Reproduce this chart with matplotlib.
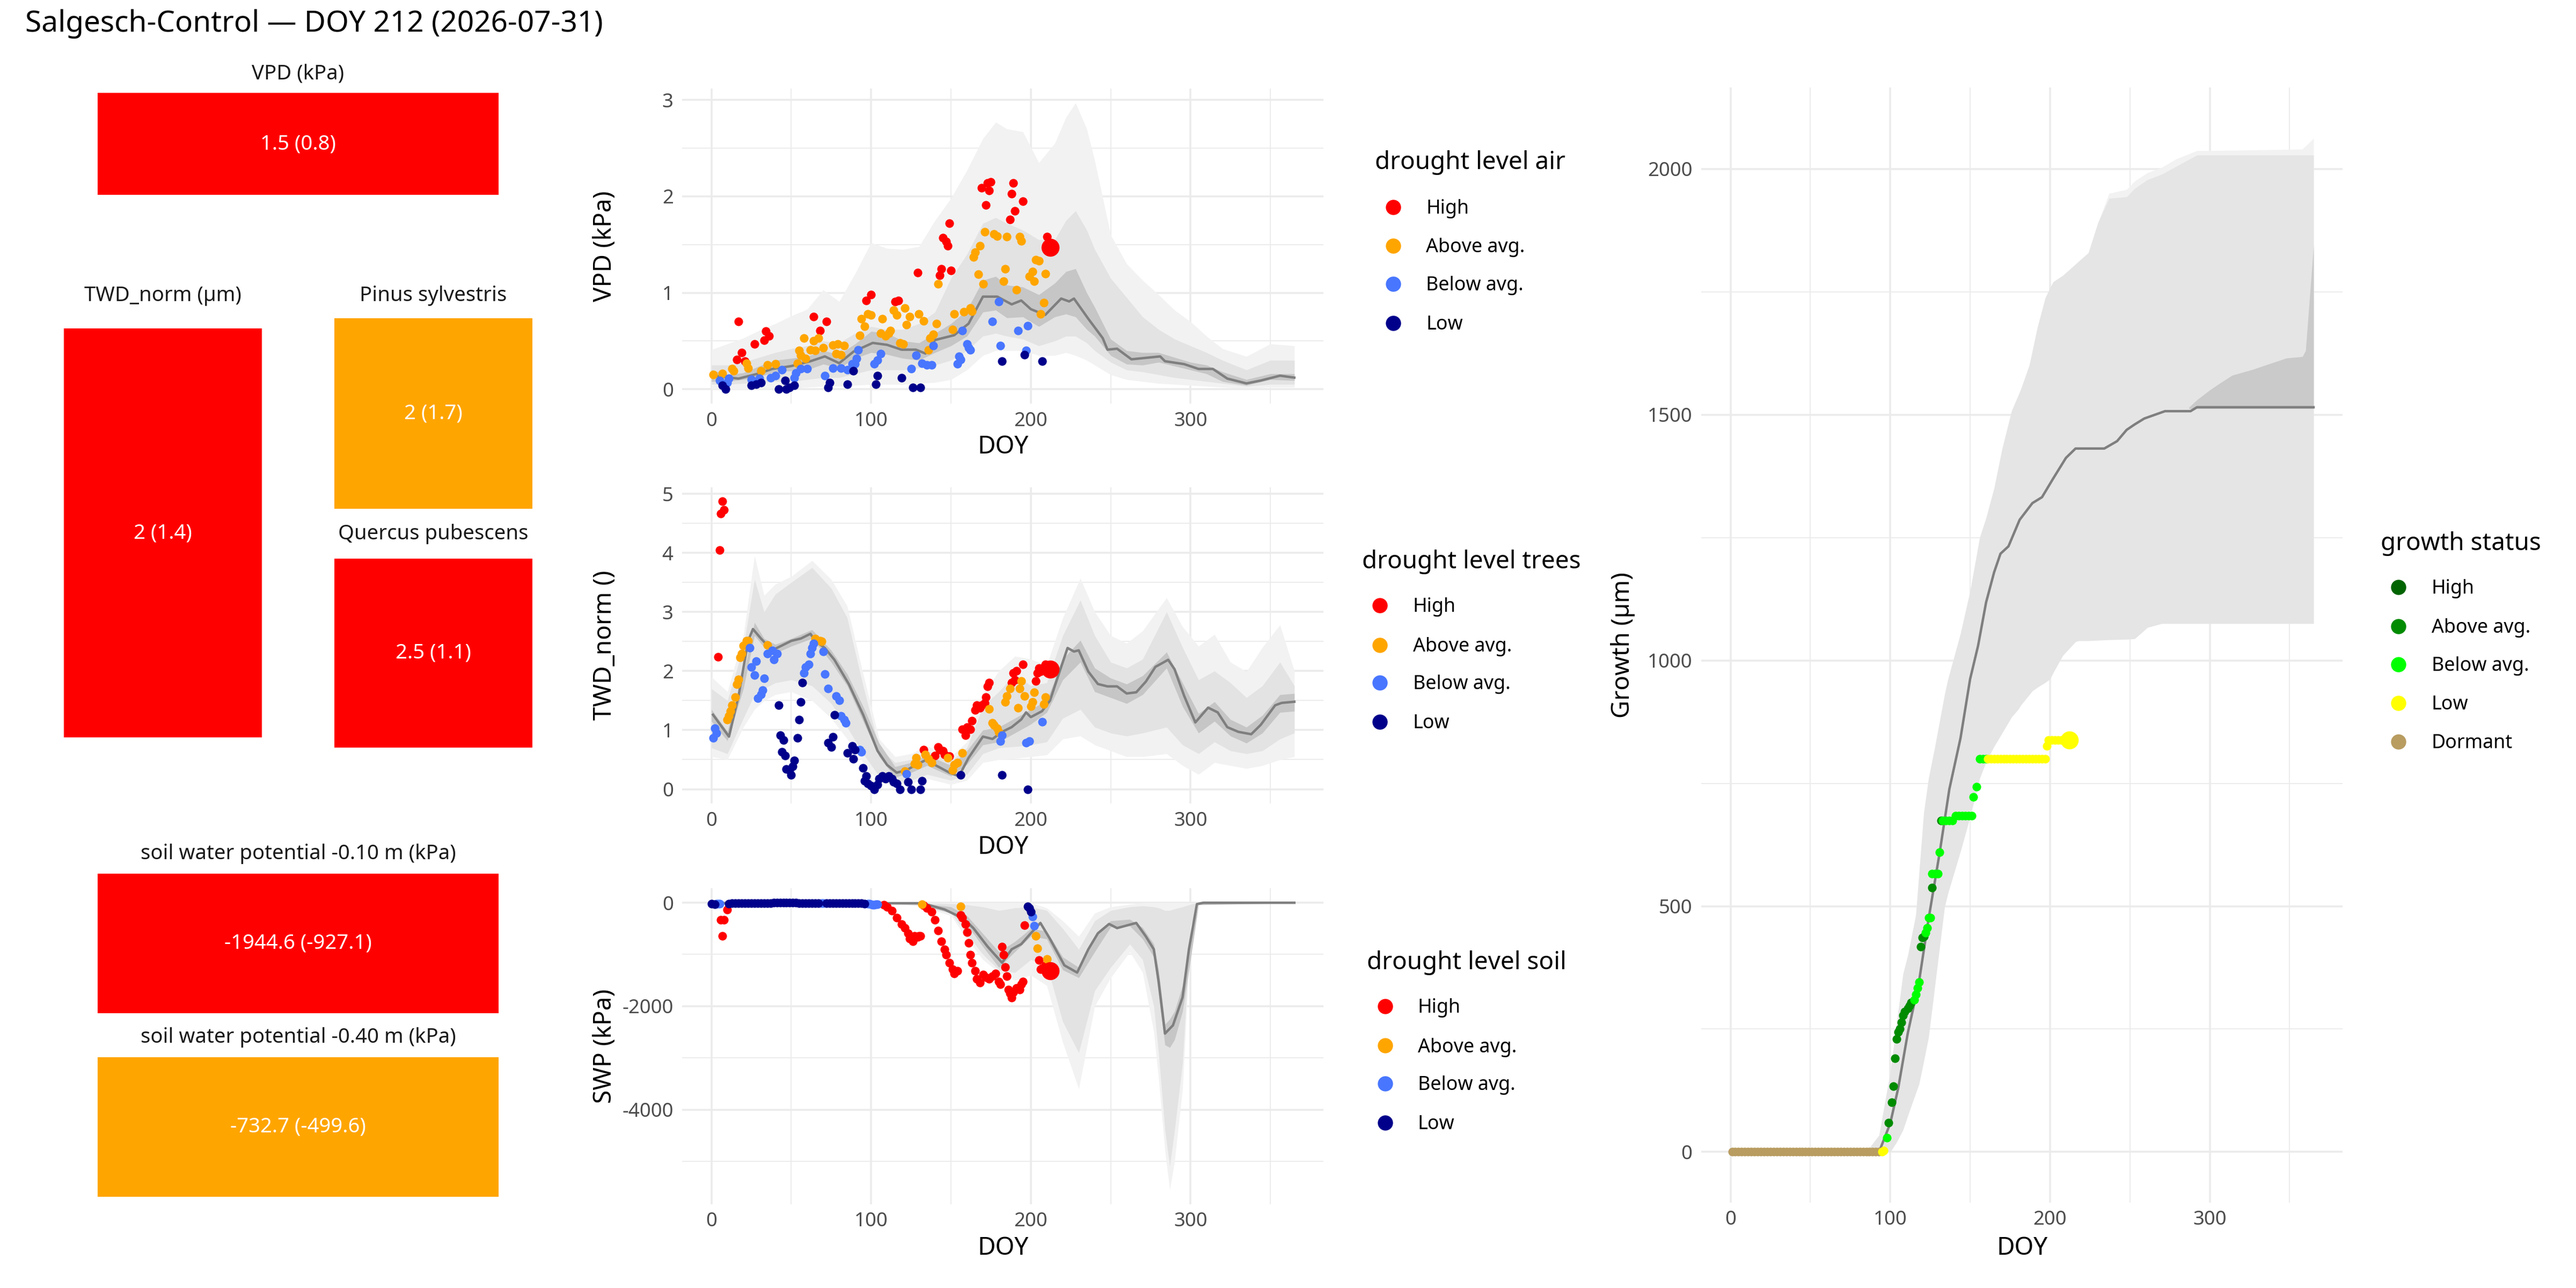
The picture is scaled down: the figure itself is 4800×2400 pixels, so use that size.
import matplotlib
matplotlib.use("Agg")
import matplotlib.pyplot as plt
from matplotlib.lines import Line2D

plt.rcParams['font.family'] = ['Noto Sans', 'DejaVu Sans']
plt.rcParams['axes.unicode_minus'] = False

TODAY = 212
TITLE = "Salgesch-Control \u2014 DOY 212 (2026-07-31)"

# ---------------- status tiles ----------------
tile_names = ["VPD (kPa)", "TWD_norm (\u00b5m)", "Pinus sylvestris", "Quercus pubescens",
              "soil water potential -0.10 m (kPa)", "soil water potential -0.40 m (kPa)"]
tile_labels = ["1.5 (0.8)", "2 (1.4)", "2 (1.7)", "2.5 (1.1)", "-1944.6 (-927.1)", "-732.7 (-499.6)"]
tile_levels = ["High", "High", "Above avg.", "High", "High", "Above avg."]

levels = ["High", "Above avg.", "Below avg.", "Low"]
level_colors = ["#FF0000", "#FFA500", "#4876FF", "#00008B"]
growth_levels = ["High", "Above avg.", "Below avg.", "Low", "Dormant"]
growth_colors = ["#006400", "#008B00", "#00FF00", "#FFFF00", "#B89C60"]

# ---------------- VPD ----------------
vpd_band_doy = [0, 10, 20, 30, 40, 50, 60, 70, 80, 90, 100, 110, 120, 130, 140, 150, 160, 170, 178, 185,
                195, 205, 215, 222, 228, 235, 240, 250, 260, 270, 280, 290, 300, 310, 320, 335, 350, 365]
vpd_out_lo = [0.0, 0.0, 0.0, 0.01, 0.01, 0.01, 0.02, 0.03, 0.03, 0.04, 0.05, 0.05, 0.05, 0.06, 0.07, 0.1, 0.2, 0.35, 0.4, 0.4,
              0.4, 0.35, 0.35, 0.38, 0.35, 0.3, 0.25, 0.15, 0.1, 0.08, 0.06, 0.05, 0.04, 0.03, 0.02, 0.01, 0.02, 0.02]
vpd_out_hi = [0.41, 0.47, 0.53, 0.61, 0.68, 0.76, 0.83, 1.03, 0.91, 1.2, 1.52, 1.46, 1.45, 1.48, 1.75, 1.98, 2.27, 2.6, 2.77, 2.7,
              2.67, 2.35, 2.55, 2.82, 2.97, 2.7, 2.37, 1.6, 1.3, 1.13, 0.98, 0.82, 0.7, 0.55, 0.42, 0.34, 0.47, 0.45]
vpd_mid_lo = [0.05, 0.05, 0.06, 0.07, 0.08, 0.08, 0.1, 0.12, 0.12, 0.16, 0.2, 0.2, 0.2, 0.22, 0.25, 0.3, 0.4, 0.55, 0.58, 0.55,
              0.52, 0.45, 0.5, 0.55, 0.55, 0.48, 0.4, 0.28, 0.2, 0.18, 0.15, 0.12, 0.1, 0.08, 0.06, 0.03, 0.05, 0.05]
vpd_mid_hi = [0.25, 0.25, 0.28, 0.33, 0.38, 0.42, 0.45, 0.5, 0.48, 0.58, 0.65, 0.62, 0.62, 0.68, 0.8, 1.15, 1.4, 1.72, 1.78, 1.72,
              1.65, 1.55, 1.55, 1.75, 1.85, 1.65, 1.45, 1.15, 0.95, 0.75, 0.62, 0.52, 0.45, 0.38, 0.3, 0.2, 0.3, 0.3]
vpd_in_lo = [0.08, 0.08, 0.1, 0.13, 0.18, 0.19, 0.2, 0.26, 0.22, 0.32, 0.38, 0.36, 0.32, 0.3, 0.38, 0.45, 0.55, 0.8, 0.82, 0.74,
             0.75, 0.65, 0.75, 0.78, 0.75, 0.62, 0.55, 0.35, 0.26, 0.25, 0.28, 0.24, 0.2, 0.16, 0.08, 0.04, 0.1, 0.09]
vpd_in_hi = [0.2, 0.15, 0.17, 0.24, 0.3, 0.32, 0.34, 0.4, 0.36, 0.47, 0.6, 0.58, 0.5, 0.48, 0.58, 0.68, 0.82, 1.13, 1.17, 1.08,
             1.06, 0.98, 1.1, 1.22, 1.25, 1.0, 0.85, 0.52, 0.4, 0.38, 0.38, 0.33, 0.28, 0.25, 0.18, 0.1, 0.16, 0.16]
vpd_med_doy = [1, 17, 29, 38, 50, 62, 71, 80, 89, 101, 110, 119, 128, 134, 140, 152, 161, 170, 179, 188, 194,
               200, 209, 219, 224, 227, 236, 245, 248, 254, 263, 281, 284, 296, 305, 314, 323, 335, 344, 356, 365]
vpd_med = [0.14, 0.11, 0.16, 0.21, 0.24, 0.29, 0.34, 0.27, 0.39, 0.48, 0.46, 0.41, 0.41, 0.37, 0.51, 0.56, 0.68, 0.96, 0.96, 0.88, 0.92,
           0.83, 0.77, 0.94, 0.91, 0.94, 0.73, 0.53, 0.41, 0.42, 0.31, 0.34, 0.29, 0.26, 0.21, 0.21, 0.11, 0.06, 0.09, 0.14, 0.12]

vpd_high_doy = [16, 17, 19, 21, 27, 33, 34, 36, 64, 68, 72, 97, 100, 115, 117, 129, 143, 144, 145, 147, 148, 149, 150,
                169, 172, 173, 174, 175, 187, 188, 189, 190, 195, 210, 212]
vpd_high = [0.31, 0.70, 0.38, 0.29, 0.47, 0.51, 0.60, 0.55, 0.75, 0.61, 0.70, 0.92, 0.98, 0.91, 0.92, 1.21, 1.18, 1.25, 1.57, 1.53,
            1.49, 1.72, 1.23, 2.09, 1.91, 2.14, 2.06, 2.15, 1.76, 2.03, 2.14, 1.85, 1.95, 1.58, 1.47]
vpd_above_doy = [1, 7, 13, 14, 22, 23, 31, 35, 40, 54, 55, 56, 58, 59, 62, 64, 65, 67, 70, 76, 78, 79, 81, 83, 93, 94, 96, 98, 100,
                 106, 107, 109, 111, 112, 114, 116, 118, 120, 121, 122, 124, 130, 133, 136, 137, 139, 141, 142, 151, 152, 158,
                 162, 163, 164, 165, 167, 168, 170, 171, 177, 179, 183, 184, 185, 191, 193, 194, 199, 201, 202, 203, 205, 206,
                 208, 209]
vpd_above = [0.15, 0.16, 0.21, 0.19, 0.27, 0.22, 0.19, 0.25, 0.26, 0.27, 0.40, 0.35, 0.53, 0.32, 0.41, 0.50, 0.40, 0.53, 0.43,
             0.46, 0.37, 0.47, 0.36, 0.45, 0.56, 0.73, 0.65, 0.78, 0.77, 0.58, 0.73, 0.55, 0.58, 0.61, 0.82, 0.77, 0.48, 0.47,
             0.84, 0.67, 0.75, 0.78, 0.71, 0.41, 0.53, 0.57, 0.68, 1.09, 0.62, 0.78, 0.80, 0.84, 0.81, 1.37, 1.42, 1.19, 1.49,
             1.09, 1.63, 1.61, 1.59, 1.12, 1.25, 1.58, 1.03, 1.58, 1.54, 1.17, 1.22, 1.12, 1.34, 1.33, 0.78, 0.90, 1.20]
vpd_below_doy = [5, 10, 11, 25, 30, 37, 40, 44, 52, 53, 56, 60, 71, 76, 81, 85, 88, 90, 91, 92, 102, 104, 106, 125, 128, 132,
                 135, 138, 139, 154, 155, 156, 157, 160, 161, 162, 176, 180, 181, 192, 197, 198]
vpd_below = [0.09, 0.07, 0.11, 0.10, 0.11, 0.12, 0.14, 0.20, 0.12, 0.17, 0.21, 0.21, 0.14, 0.22, 0.22, 0.20, 0.26, 0.26, 0.32,
             0.41, 0.26, 0.30, 0.37, 0.21, 0.35, 0.27, 0.25, 0.25, 0.45, 0.26, 0.34, 0.31, 0.61, 0.47, 0.43, 0.41, 0.70, 0.91,
             0.45, 0.61, 0.40, 0.66]
vpd_low_doy = [7, 9, 25, 28, 31, 42, 46, 47, 49, 52, 73, 74, 85, 89, 103, 104, 119, 126, 131, 182, 196, 207]
vpd_low = [0.04, 0.00, 0.04, 0.05, 0.07, 0.00, 0.09, 0.00, 0.02, 0.04, 0.02, 0.07, 0.05, 0.19, 0.05, 0.14, 0.12, 0.02, 0.02,
           0.29, 0.36, 0.29]

# ---------------- TWD_norm ----------------
twd_band_doy = [0, 10, 20, 27, 33, 40, 50, 63, 75, 85, 95, 105, 115, 125, 135, 150, 160, 170, 180, 190, 200, 210, 220, 231,
                240, 250, 260, 270, 285, 295, 305, 315, 325, 335, 345, 356, 365]
twd_out_lo = [0.55, 0.5, 1.05, 1.35, 1.5, 1.6, 1.65, 1.5, 1.2, 0.85, 0.45, 0.12, 0.06, 0.1, 0.18, 0.08, 0.15, 0.45, 0.5, 0.52,
              0.55, 0.58, 0.85, 0.9, 0.75, 0.65, 0.55, 0.55, 0.6, 0.4, 0.25, 0.45, 0.4, 0.35, 0.4, 0.5, 0.55]
twd_out_hi = [1.9, 1.65, 2.6, 3.95, 3.28, 3.47, 3.6, 3.87, 3.55, 3.1, 1.95, 0.85, 0.55, 0.6, 0.73, 0.55, 0.8, 1.6, 2.0, 2.25,
              2.2, 2.1, 2.9, 3.57, 3.0, 2.6, 2.47, 2.68, 3.24, 2.75, 2.42, 2.62, 2.15, 1.99, 2.4, 2.78, 2.0]
twd_mid_lo = [0.7, 0.6, 1.2, 1.6, 1.7, 1.8, 1.85, 1.75, 1.45, 1.05, 0.6, 0.22, 0.12, 0.15, 0.25, 0.15, 0.25, 0.6, 0.7, 0.72,
              0.75, 0.8, 1.2, 1.35, 1.05, 0.95, 0.9, 0.95, 1.05, 0.75, 0.6, 0.8, 0.65, 0.6, 0.65, 0.85, 0.95]
twd_mid_hi = [1.7, 1.5, 2.4, 3.55, 3.0, 3.3, 3.5, 3.75, 3.4, 2.9, 1.75, 0.7, 0.45, 0.5, 0.65, 0.48, 0.7, 1.4, 1.65, 1.95,
              1.75, 1.8, 2.6, 3.2, 2.6, 2.15, 2.05, 2.2, 3.0, 2.4, 1.85, 2.0, 1.8, 1.55, 1.75, 2.15, 1.75]
twd_in_lo = [1.15, 0.82, 1.7, 2.6, 2.4, 2.3, 2.42, 2.55, 2.15, 1.75, 1.15, 0.55, 0.2, 0.28, 0.4, 0.22, 0.42, 0.75, 0.8, 0.95,
             1.1, 1.3, 1.85, 2.15, 1.65, 1.55, 1.45, 1.6, 2.05, 1.4, 0.95, 1.15, 0.9, 0.78, 0.95, 1.3, 1.32]
twd_in_hi = [1.35, 0.98, 1.95, 2.82, 2.55, 2.45, 2.55, 2.7, 2.35, 1.95, 1.4, 0.78, 0.38, 0.45, 0.58, 0.4, 0.65, 1.0, 1.05, 1.2,
             1.35, 1.5, 2.2, 2.52, 2.05, 1.88, 1.78, 1.92, 2.32, 1.8, 1.28, 1.48, 1.18, 1.05, 1.25, 1.6, 1.62]
twd_med_doy = [1, 11, 17, 23, 26, 31, 38, 44, 50, 56, 62, 65, 71, 77, 86, 95, 104, 110, 116, 122, 128, 134, 140, 149, 155,
               161, 167, 170, 176, 182, 188, 194, 197, 200, 207, 212, 218, 223, 227, 230, 236, 242, 248, 254, 260, 266, 272,
               278, 286, 290, 296, 303, 311, 317, 323, 330, 338, 344, 353, 357, 365]
twd_med = [1.26, 0.89, 1.58, 2.51, 2.71, 2.55, 2.35, 2.43, 2.51, 2.55, 2.63, 2.51, 2.39, 2.19, 1.78, 1.26, 0.65, 0.41, 0.28,
           0.32, 0.41, 0.49, 0.41, 0.28, 0.22, 0.53, 0.77, 0.89, 0.85, 0.97, 1.05, 1.18, 1.30, 1.22, 1.32, 1.50, 1.99, 2.39,
           2.33, 2.35, 1.99, 1.78, 1.74, 1.74, 1.62, 1.64, 1.82, 2.07, 2.19, 2.03, 1.58, 1.13, 1.38, 1.30, 1.05, 0.97, 0.93,
           1.09, 1.42, 1.46, 1.48]

twd_high_doy = [4, 5, 6, 7, 8, 133, 140, 142, 143, 145, 146, 149, 157, 159, 160, 162, 163, 165, 166, 168, 169, 171, 172, 173,
                174, 188, 189, 190, 191, 195, 203, 204, 205, 206, 208, 209, 211, 212]
twd_high = [2.24, 4.05, 4.66, 4.87, 4.73, 0.67, 0.57, 0.71, 0.67, 0.65, 0.59, 0.56, 1.01, 0.91, 1.05, 1.01, 1.16, 1.34, 1.42,
            1.38, 1.42, 1.46, 1.56, 1.74, 1.80, 1.80, 1.97, 1.85, 2.00, 2.11, 1.83, 1.97, 2.05, 1.99, 2.07, 2.11, 2.07, 2.03]
twd_above_doy = [10, 11, 12, 13, 15, 16, 17, 18, 19, 20, 22, 23, 35, 65, 68, 69, 121, 127, 128, 129, 134, 136, 138, 148, 151,
                 152, 154, 157, 174, 176, 177, 179, 180, 184, 185, 187, 192, 193, 194, 196, 200, 201, 202, 208, 209]
twd_above = [1.18, 1.24, 1.32, 1.42, 1.56, 1.78, 1.86, 2.23, 2.29, 2.43, 2.51, 2.51, 2.44, 2.55, 2.51, 2.50, 0.30, 0.43, 0.53,
             0.41, 0.59, 0.51, 0.45, 0.53, 0.32, 0.41, 0.45, 0.61, 1.36, 1.12, 1.09, 1.03, 0.97, 1.48, 1.58, 1.70, 1.38, 1.70,
             1.83, 1.58, 1.40, 1.48, 1.64, 1.44, 1.56]
twd_below_doy = [1, 2, 3, 24, 25, 27, 28, 29, 31, 32, 33, 35, 38, 39, 41, 58, 59, 61, 62, 63, 64, 70, 71, 73, 78, 80, 81, 83,
                 84, 93, 94, 122, 181, 182, 197, 199, 207]
twd_below = [0.87, 1.03, 0.95, 2.39, 2.07, 1.93, 2.17, 1.54, 1.60, 1.68, 1.88, 2.29, 2.35, 2.19, 2.29, 1.97, 2.07, 2.11, 2.29,
             2.39, 2.47, 2.33, 1.95, 1.70, 1.58, 1.50, 1.24, 1.18, 1.12, 0.67, 0.63, 0.26, 0.81, 0.91, 0.79, 0.81, 1.14]
twd_low_doy = [42, 43, 44, 45, 46, 47, 49, 50, 51, 52, 54, 55, 56, 57, 73, 75, 76, 77, 85, 88, 89, 90, 95, 96, 97, 98, 100,
               102, 104, 105, 107, 109, 111, 113, 114, 116, 118, 123, 125, 131, 132, 156, 182, 198]
twd_low = [1.42, 0.91, 0.63, 0.83, 0.57, 0.34, 0.32, 0.24, 0.39, 0.49, 0.87, 1.18, 1.48, 1.80, 0.79, 0.71, 0.89, 1.26, 0.61,
           0.73, 0.51, 0.67, 0.36, 0.14, 0.22, 0.10, 0.06, 0.00, 0.08, 0.18, 0.22, 0.18, 0.22, 0.18, 0.12, 0.10, 0.00, 0.12,
           0.00, 0.00, 0.14, 0.24, 0.24, 0.00]

# ---------------- soil water potential ----------------
swp_band_doy = [0, 100, 110, 130, 150, 160, 170, 180, 190, 200, 210, 220, 230, 240, 250, 262, 270, 277, 280, 284, 287, 290,
                295, 300, 305, 365]
swp_out_lo = [0, 0, -20, -60, -250, -700, -1100, -1350, -1500, -1400, -1600, -2700, -3600, -2000, -1450, -950, -1350, -2500,
              -3400, -4800, -5550, -5000, -3600, -600, -20, 0]
swp_out_hi = [0, 0, 0, 0, 0, 0, 0, 0, 0, 0, -100, -350, -650, -200, -80, -30, 0, 0, 0, 0, 0, 0, 0, 0, 0, 0]
swp_mid_lo = [0, 0, -15, -50, -200, -600, -1000, -1300, -1350, -1100, -1200, -2300, -2900, -1700, -1250, -800, -1100, -2000,
              -2900, -4400, -5100, -4400, -3100, -450, -15, 0]
swp_mid_hi = [0, 0, 0, -5, -20, -40, -80, -150, -100, -80, -150, -500, -900, -350, -150, -80, -60, -80, -100, -150, -150,
              -120, -80, -30, 0, 0]
swp_in_lo = [0, 0, -15, -30, -200, -420, -850, -1250, -950, -650, -700, -1300, -1450, -950, -470, -450, -700, -1050, -1750,
             -2750, -2800, -2650, -2100, -1100, -40, -5]
swp_in_hi = [0, 0, 0, -5, -80, -250, -600, -950, -750, -500, -550, -1050, -1250, -650, -350, -320, -480, -800, -1300, -2350,
             -2250, -2100, -1600, -700, -10, 0]
swp_med_doy = [0, 110, 130, 134, 146, 158, 164, 173, 182, 188, 194, 200, 206, 212, 221, 229, 236, 242, 249, 254, 266, 272,
               277, 280, 284, 289, 295, 299, 304, 308, 365]
swp_med = [-5, -10, -10, -26, -129, -310, -490, -850, -1160, -900, -800, -590, -390, -700, -1210, -1350, -900, -590, -410,
           -490, -390, -650, -900, -1520, -2530, -2370, -1830, -900, -26, 0, 0]

swp_high_doy = [6, 7, 8, 10, 108, 110, 113, 116, 119, 121, 123, 124, 126, 127, 129, 130, 131, 133, 135, 138, 140, 142, 144,
                146, 147, 149, 151, 152, 154, 156, 157, 159, 160, 161, 162, 163, 165, 166, 168, 170, 172, 174, 176, 178, 180,
                181, 182, 183, 184, 185, 186, 187, 188, 189, 191, 193, 194, 195, 196, 205, 206, 207, 209, 210, 211, 212]
swp_high = [-335, -645, -335, -129, -41, -77, -155, -284, -413, -490, -594, -697, -748, -645, -660, -645, -640, -52, -103,
            -180, -335, -542, -748, -903, -1006, -1161, -1290, -1368, -1316, -232, -284, -413, -568, -774, -1006, -1161,
            -1316, -1471, -1548, -1394, -1445, -1471, -1419, -1368, -1523, -1574, -852, -1006, -1239, -1419, -1677, -1755,
            -1832, -1729, -1652, -1677, -1574, -1523, -439, -1110, -1290, -1264, -1213, -1380, -1342, -1316]
swp_above_doy = [132, 156, 203, 204, 210]
swp_above = [-26, -67, -645, -877, -1084]
swp_below_doy = [3, 4, 5, 69, 70, 98, 99, 100, 101, 102, 103, 104, 201, 202]
swp_below = [-15, -15, -20, -10, -10, -15, -20, -25, -40, -35, -25, -30, -273, -440]
swp_low_doy = [0, 2, 11, 13, 15, 17, 19, 21, 23, 25, 27, 29, 31, 33, 35, 37, 39, 41, 43, 45, 47, 49, 51, 53, 55, 57, 59, 61,
               63, 65, 67, 72, 74, 76, 78, 80, 82, 84, 86, 88, 90, 92, 94, 96, 198, 199, 200]
swp_low = [-20, -25, -15, -12, -10, -10, -8, -8, -6, -6, -5, -5, -5, -4, -4, -4, -3, -3, -3, -3, -3, -3, -3, -3, -4, -4, -4,
           -5, -5, -6, -8, -6, -5, -5, -5, -5, -6, -6, -7, -8, -9, -10, -12, -15, -67, -103, -170]

# ---------------- growth ----------------
gro_band_doy = [0, 85, 93, 100, 104, 108, 111, 116, 118, 121, 124, 128, 134, 136, 144, 150, 156, 160, 165, 170, 176, 180,
                182, 187, 189, 192, 197, 200, 202, 208, 216, 218, 224, 230, 237, 248, 253, 261, 270, 279, 292, 300, 358, 365]
gro_lo = [0, 0, 0, 0, 20, 45, 74, 120, 138, 185, 234, 340, 498, 525, 612, 682, 760, 794, 825, 852, 885, 900, 910, 930, 938,
          945, 955, 962, 975, 1010, 1038, 1040, 1040, 1041, 1042, 1043, 1044, 1067, 1075, 1075, 1075, 1075, 1075, 1075]
gro_hi = [0, 0, 34, 162, 262, 362, 400, 482, 565, 690, 760, 825, 930, 960, 1055, 1141, 1250, 1290, 1350, 1430, 1508, 1538,
          1554, 1600, 1630, 1676, 1737, 1758, 1770, 1783, 1806, 1812, 1829, 1890, 1940, 1943, 1960, 1978, 1989, 2005, 2028,
          2028, 2028, 2028]
gro_out_hi = [0, 0, 34, 162, 262, 362, 400, 482, 565, 690, 760, 825, 930, 960, 1055, 1141, 1250, 1290, 1350, 1430, 1508,
              1538, 1554, 1600, 1630, 1676, 1737, 1758, 1770, 1783, 1806, 1812, 1829, 1890, 1950, 1958, 1975, 1992, 2003,
              2020, 2037, 2037, 2040, 2062]
gro_in_doy = [287, 292, 300, 305, 314, 327, 337, 348, 358, 360, 365]
gro_in_lo = [1512, 1512, 1512, 1512, 1512, 1512, 1512, 1512, 1512, 1512, 1512]
gro_in_hi = [1515, 1530, 1550, 1561, 1580, 1592, 1603, 1615, 1618, 1630, 1844]
gro_med_doy = [0, 93, 100, 105, 111, 118, 124, 131, 137, 144, 150, 155, 160, 165, 169, 174, 181, 189, 195, 202, 210, 216,
               234, 242, 248, 253, 259, 272, 288, 292, 365]
gro_med = [0, 0, 58, 130, 242, 346, 474, 610, 738, 842, 962, 1030, 1118, 1179, 1217, 1232, 1286, 1320, 1332, 1370, 1412,
           1431, 1431, 1446, 1469, 1480, 1492, 1507, 1507, 1515, 1515]

gro_high_doy = []
gro_high = []
gro_above_doy = [99, 101, 102, 103, 104, 105, 106, 107, 108, 109, 111, 112, 113, 119, 120, 121, 126, 132]
gro_above = [60, 101, 134, 190, 230, 244, 250, 264, 278, 286, 292, 298, 304, 418, 436, 438, 538, 674]
gro_below_doy = [98, 115, 116, 117, 118, 122, 123, 124, 125, 126, 128, 130, 131, 133, 135, 137, 139, 141, 143, 145, 147,
                 149, 151, 152, 154, 156, 158, 160]
gro_below = [29, 310, 320, 334, 346, 446, 456, 476, 477, 566, 566, 566, 610, 674, 674, 674, 674, 684, 684, 684, 684, 684,
             684, 722, 743, 800, 800, 800]
gro_low_doy = [95, 96, 161, 163, 165, 167, 169, 171, 173, 175, 177, 179, 181, 183, 185, 187, 189, 191, 193, 195, 197, 198,
               199, 201, 203, 205, 207, 209, 211, 212]
gro_low = [0, 3, 800, 800, 800, 800, 800, 800, 800, 800, 800, 800, 800, 800, 800, 800, 800, 800, 800, 800, 800, 826, 838,
           838, 838, 838, 838, 838, 838, 838]
gro_dormant_doy = [1, 3, 5, 7, 9, 11, 13, 15, 17, 19, 21, 23, 25, 27, 29, 31, 33, 35, 37, 39, 41, 43, 45, 47, 49, 51, 53,
                   55, 57, 59, 61, 63, 65, 67, 69, 71, 73, 75, 77, 79, 81, 83, 85, 87, 89, 91, 93]
gro_dormant = [0, 0, 0, 0, 0, 0, 0, 0, 0, 0, 0, 0, 0, 0, 0, 0, 0, 0, 0, 0, 0, 0, 0, 0, 0, 0, 0,
               0, 0, 0, 0, 0, 0, 0, 0, 0, 0, 0, 0, 0, 0, 0, 0, 0, 0, 0, 0]

# ---------------- layout (reference is laid out on a 1568 x 784 grid) ----------------
W, H = 1568.0, 784.0


def box(x0, y0, x1, y1):
    return [x0 / W, 1 - y1 / H, (x1 - x0) / W, (y1 - y0) / H]


GREYS = ["#F2F2F2", "#E3E3E3", "#C6C6C6"]
LINE_GREY = "#7F7F7F"
TICK_GREY = "#4D4D4D"
GRID = "#EBEBEB"
PT_SIZE = 15
TODAY_SIZE = 65

fig = plt.figure(figsize=(16, 8), dpi=300)
fig.text(15.5 / W, 1 - 14.5 / H, TITLE, fontsize=13.2, va="center", ha="left")

# tiles
tile_boxes = [(59.4, 56.5, 303.5, 118.6), (39, 200, 159.5, 449), (203.5, 193.6, 324, 309.6),
              (203.5, 340, 324, 455), (59.4, 531.8, 303.5, 616.6), (59.4, 643.5, 303.5, 728.5)]
tile_title_y = [45, 180, 180, 325, 519.7, 631.4]
for name, lab, lev, bx, ty in zip(tile_names, tile_labels, tile_levels, tile_boxes, tile_title_y):
    tax = fig.add_axes(box(*bx))
    tax.set_facecolor(level_colors[levels.index(lev)])
    tax.set_xticks([])
    tax.set_yticks([])
    for s in tax.spines.values():
        s.set_visible(False)
    tax.text(0.5, 0.5, lab, color="white", fontsize=9.2, ha="center", va="center", transform=tax.transAxes)
    fig.text((bx[0] + bx[2]) / 2 / W, 1 - ty / H, name, fontsize=9.2, ha="center", va="center", color="#1A1A1A")


def style(ax, ylim, ymaj, ymin, xlab_y, ylabel):
    ax.set_xlim(-18.25, 383.25)
    ax.set_ylim(*ylim)
    ax.set_xticks([0, 100, 200, 300])
    ax.set_xticks([50, 150, 250, 350], minor=True)
    ax.set_yticks(ymaj)
    ax.set_yticks(ymin, minor=True)
    ax.grid(which="major", color=GRID, lw=0.85)
    ax.grid(which="minor", color=GRID, lw=0.45)
    ax.set_axisbelow(True)
    for s in ax.spines.values():
        s.set_visible(False)
    ax.tick_params(which="both", length=0, labelsize=8.8, labelcolor=TICK_GREY)
    ax.tick_params(axis="x", pad=3.5)
    ax.tick_params(axis="y", pad=4)
    ax.set_xlabel("DOY", fontsize=11, va="center")
    ax.xaxis.set_label_coords(0.5, xlab_y)
    ax.set_ylabel(ylabel, fontsize=11, va="center")
    ax.yaxis.set_label_coords(-0.121, 0.5)


def bands(ax, doy, layers):
    for (lo, hi), col in zip(layers, GREYS):
        ax.fill_between(doy, lo, hi, color=col, lw=0, zorder=1)


def points(ax, groups, colors):
    for (d, v), c in zip(groups, colors):
        if not d:
            continue
        ax.scatter(d, v, s=PT_SIZE, color=c, lw=0, zorder=3)
        for i, day in enumerate(d):
            if day == TODAY:
                ax.scatter([d[i]], [v[i]], s=TODAY_SIZE, color=c, lw=0, zorder=4)


def legend(x_title, y_title, title, labels, colors, ys):
    fig.text(x_title / W, 1 - y_title / H, title, fontsize=11, va="center", ha="left")
    for lab, col, y in zip(labels, colors, ys):
        fig.add_artist(Line2D([(x_title + 11) / W], [1 - (y + 0.5) / H], marker="o", ms=5.8, color=col, ls="none",
                              transform=fig.transFigure))
        fig.text((x_title + 31) / W, 1 - (y + 1.5) / H, lab, fontsize=8.6, va="center", ha="left")


# VPD panel
ax1 = fig.add_axes(box(415.3, 53.8, 805.6, 245.7))
bands(ax1, vpd_band_doy, [(vpd_out_lo, vpd_out_hi), (vpd_mid_lo, vpd_mid_hi), (vpd_in_lo, vpd_in_hi)])
ax1.plot(vpd_med_doy, vpd_med, color=LINE_GREY, lw=1.1, zorder=2)
points(ax1, [(vpd_high_doy, vpd_high), (vpd_above_doy, vpd_above), (vpd_below_doy, vpd_below),
             (vpd_low_doy, vpd_low)], level_colors)
style(ax1, (-0.15, 3.12), [0, 1, 2, 3], [0.5, 1.5, 2.5], -0.137, "VPD (kPa)")
legend(837, 99, "drought level air", levels, level_colors, [125.5, 149, 172.3, 196])

# TWD panel
ax2 = fig.add_axes(box(415.3, 296.6, 805.6, 489))
bands(ax2, twd_band_doy, [(twd_out_lo, twd_out_hi), (twd_mid_lo, twd_mid_hi), (twd_in_lo, twd_in_hi)])
ax2.plot(twd_med_doy, twd_med, color=LINE_GREY, lw=1.1, zorder=2)
points(ax2, [(twd_high_doy, twd_high), (twd_above_doy, twd_above), (twd_below_doy, twd_below),
             (twd_low_doy, twd_low)], level_colors)
style(ax2, (-0.24, 5.11), [0, 1, 2, 3, 4, 5], [0.5, 1.5, 2.5, 3.5, 4.5], -0.14, "TWD_norm ()")
legend(829, 342, "drought level trees", levels, level_colors, [368, 392, 415, 439])

# SWP panel
ax3 = fig.add_axes(box(415.3, 540.5, 805.6, 733))
bands(ax3, swp_band_doy, [(swp_out_lo, swp_out_hi), (swp_mid_lo, swp_mid_hi), (swp_in_lo, swp_in_hi)])
ax3.plot(swp_med_doy, swp_med, color=LINE_GREY, lw=1.1, zorder=2)
points(ax3, [(swp_high_doy, swp_high), (swp_above_doy, swp_above), (swp_below_doy, swp_below),
             (swp_low_doy, swp_low)], level_colors)
style(ax3, (-5830, 286), [0, -2000, -4000], [-1000, -3000, -5000], -0.14, "SWP (kPa)")
legend(832, 586, "drought level soil", levels, level_colors, [612, 636, 659, 683])

# growth panel
ax4 = fig.add_axes(box(1035.6, 53.4, 1426, 732))
ax4.fill_between(gro_band_doy, gro_lo, gro_out_hi, color=GREYS[0], lw=0, zorder=1)
ax4.fill_between(gro_band_doy, gro_lo, gro_hi, color="#E5E5E5", lw=0, zorder=1)
ax4.fill_between(gro_in_doy, gro_in_lo, gro_in_hi, color="#CACACA", lw=0, zorder=1)
ax4.plot(gro_med_doy, gro_med, color=LINE_GREY, lw=1.1, zorder=2)
points(ax4, [(gro_dormant_doy, gro_dormant), (gro_high_doy, gro_high), (gro_above_doy, gro_above),
             (gro_below_doy, gro_below), (gro_low_doy, gro_low)],
       [growth_colors[4], growth_colors[0], growth_colors[1], growth_colors[2], growth_colors[3]])
style(ax4, (-103, 2165), [0, 500, 1000, 1500, 2000], [250, 750, 1250, 1750], -0.041, "Growth (\u00b5m)")
ax4.yaxis.set_label_coords(-0.122, 0.5)
legend(1449, 331, "growth status", growth_levels, growth_colors, [357, 380.6, 404, 427.4, 451])

fig.savefig("out.png", dpi=300, facecolor="white")
